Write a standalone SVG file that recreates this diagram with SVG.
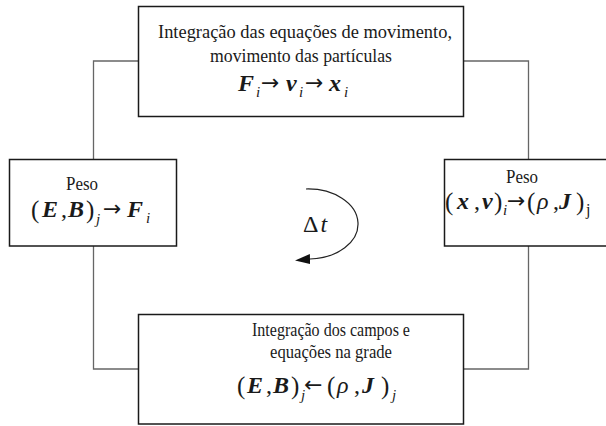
<svg xmlns="http://www.w3.org/2000/svg" width="606" height="426" viewBox="0 0 606 426">
<defs>
<style>
.box{fill:#fff;stroke:#1a1a1a;stroke-width:1.5}
.con{fill:none;stroke:#666;stroke-width:1.3}
.t{font-family:"Liberation Serif","Times New Roman",serif;font-size:18px;fill:#1a1a1a}
.m{font-family:"Liberation Serif","Times New Roman",serif;font-size:24px;fill:#1a1a1a}
.bi{font-weight:bold;font-style:italic}
.it{font-style:italic}
.p{font-size:25px}
.sub{font-size:15px;font-style:italic}
.subu{font-size:16px}
.ar{font-family:"DejaVu Sans",sans-serif;font-size:22px}
.loop{fill:none;stroke:#222;stroke-width:1.2}
</style>
<marker id="ah" viewBox="0 0 15 10" refX="0" refY="5" markerWidth="15" markerHeight="10" markerUnits="userSpaceOnUse" orient="auto">
<path d="M0,0 L15,4 L0,10 z" fill="#111"/>
</marker>
</defs>
<g id="connectors">
<polyline class="con" points="138,61 93.5,61 93.5,159"/>
<polyline class="con" points="93.5,246 93.5,369 138,369"/>
<polyline class="con" points="463,61 528.5,61 528.5,159"/>
<polyline class="con" points="463,369 528.5,369 528.5,246"/>
</g>
<g id="top">
<rect class="box" x="138.5" y="6.5" width="325" height="110"/>
<text class="t" x="158" y="38" textLength="294" lengthAdjust="spacingAndGlyphs">Integração das equações de movimento,</text>
<text class="t" x="210" y="62" textLength="182" lengthAdjust="spacingAndGlyphs">movimento das partículas</text>
<text class="m"><tspan class="bi" x="238" y="91">F</tspan><tspan class="sub" x="256" y="97">i</tspan><tspan class="ar" x="261" y="90">→</tspan><tspan class="bi" x="286" y="91">v</tspan><tspan class="sub" x="299" y="97">i</tspan><tspan class="ar" x="305" y="90">→</tspan><tspan class="bi" x="329" y="91">x</tspan><tspan class="sub" x="344" y="97">i</tspan></text>
</g>
<g id="left">
<rect class="box" x="9.5" y="159.5" width="167" height="86.5"/>
<text class="t" x="82" y="190" text-anchor="middle" textLength="32" lengthAdjust="spacingAndGlyphs">Peso</text>
<text class="m"><tspan class="p" x="31" y="218">(</tspan><tspan class="bi" x="42" y="217">E</tspan><tspan x="61" y="217">,</tspan><tspan class="bi" x="68" y="217">B</tspan><tspan class="p" x="86" y="218">)</tspan><tspan class="sub" x="96" y="224">j</tspan><tspan class="ar" x="103" y="216">→</tspan><tspan class="bi" x="127" y="217">F</tspan><tspan class="sub" x="146" y="223">i</tspan></text>
</g>
<g id="right">
<rect class="box" x="444.5" y="159.5" width="165" height="86.5"/>
<text class="t" x="522" y="183" text-anchor="middle" textLength="32" lengthAdjust="spacingAndGlyphs">Peso</text>
<text class="m"><tspan class="p" x="445" y="210">(</tspan><tspan class="bi" x="457" y="209">x</tspan><tspan x="474" y="209">,</tspan><tspan class="bi" x="482" y="209">v</tspan><tspan class="p" x="494" y="210">)</tspan><tspan class="sub" x="503" y="215">i</tspan><tspan class="ar" x="507" y="208">→</tspan><tspan class="p" x="527" y="210">(</tspan><tspan class="it" x="537" y="209">ρ</tspan><tspan x="553" y="209">,</tspan><tspan class="bi" x="559" y="209">J</tspan><tspan class="p" x="576" y="210">)</tspan><tspan class="subu" x="586" y="215">j</tspan></text>
</g>
<g id="bottom">
<rect class="box" x="138.5" y="314.5" width="325" height="109.5"/>
<text class="t" x="331" y="336" text-anchor="middle" textLength="158" lengthAdjust="spacingAndGlyphs">Integração dos campos e</text>
<text class="t" x="331" y="358" text-anchor="middle" textLength="122" lengthAdjust="spacingAndGlyphs">equações na grade</text>
<text class="m"><tspan class="p" x="237" y="394">(</tspan><tspan class="bi" x="247" y="393">E</tspan><tspan x="266" y="393">,</tspan><tspan class="bi" x="273" y="393">B</tspan><tspan class="p" x="291" y="394">)</tspan><tspan class="sub" x="301" y="400">j</tspan><tspan class="ar" x="304" y="392">←</tspan><tspan class="p" x="327" y="394">(</tspan><tspan class="it" x="337" y="393">ρ</tspan><tspan x="354" y="393">,</tspan><tspan class="bi" x="362" y="393">J</tspan><tspan class="p" x="381" y="394">)</tspan><tspan class="sub" x="392" y="400">j</tspan></text>
</g>
<g id="cycle">
<path class="loop" d="M306,189 A50,35 0 0 1 310,259" marker-end="url(#ah)"/>
<text class="m" x="303" y="232" font-size="19"><tspan>Δ</tspan><tspan class="it" dx="2">t</tspan></text>
</g>
</svg>
